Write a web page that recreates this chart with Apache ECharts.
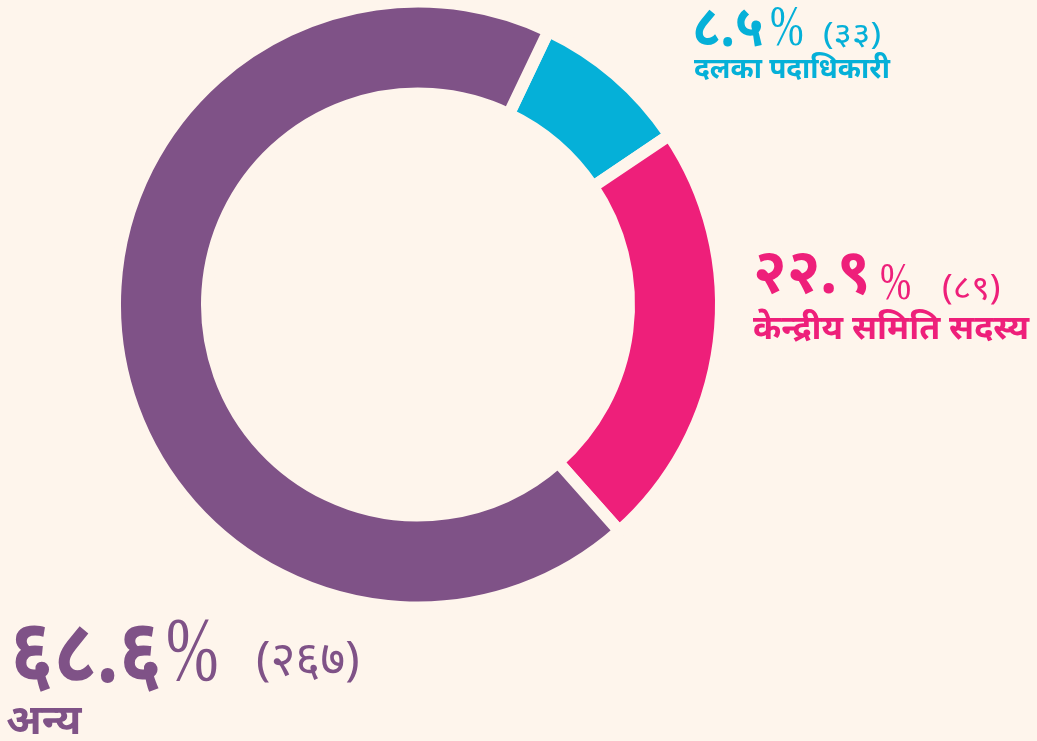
<!DOCTYPE html>
<html>
<head>
<meta charset="utf-8">
<script src="https://cdn.jsdelivr.net/npm/echarts@6/dist/echarts.min.js"></script>
<style>
  html, body { margin: 0; padding: 0; background: #fef5ec; }
  #chart { width: 1037px; height: 741px; }
</style>
</head>
<body>
<div id="chart"></div>
<script>
// data
const names = ['दलका पदाधिकारी', 'केन्द्रीय समिति सदस्य', 'अन्य'];
const counts = [33, 89, 267];
const colors = ['#05b0d8', '#ee1f7a', '#7f5287'];

const bg = '#fef5ec';
const font = '"Noto Sans", "DejaVu Sans", sans-serif';

// label placement: [x, y, fontSize, scaleX] for number / percent sign / count / name
const labelPos = [
  { num: [692, 0, 58, 0.88], pct: [770, 2, 56, 0.72], cnt: [823, 20, 30, 1.18], name: [694, 56, 28, 1] },
  { num: [753, 244, 62, 0.97], pct: [880, 259, 52, 0.72], cnt: [942, 272, 34, 1.05], name: [753, 312, 34, 1] },
  { num: [10, 611, 90, 0.86], pct: [166, 611, 90, 0.7], cnt: [256, 637, 48, 1.0], name: [6, 701, 42, 1] }
];

const toDeva = s => String(s).replace(/[0-9]/g, d => '०१२३४५६७८९'[d]);

const total = counts.reduce((a, b) => a + b, 0);
const pieData = names.map((n, i) => ({
  name: n,
  value: counts[i],
  itemStyle: { color: colors[i] }
}));

const texts = [];
names.forEach((n, i) => {
  const p = labelPos[i];
  const pct = (counts[i] / total * 100).toFixed(1);
  const add = (pos, text, weight, family) => {
    texts.push({
      type: 'text',
      x: pos[0],
      y: pos[1],
      scaleX: pos[3],
      style: {
        text: text,
        fill: colors[i],
        font: weight + ' ' + pos[2] + 'px ' + (family || font),
        verticalAlign: 'top'
      }
    });
  };
  add(p.num, toDeva(pct), 'bold');
  add(p.pct, '%', 'normal', '"Liberation Serif", serif');
  add(p.cnt, '(' + toDeva(counts[i]) + ')', 'normal');
  add(p.name, n, 'bold');
});

const chart = echarts.init(document.getElementById('chart'));
chart.setOption({
  backgroundColor: bg,
  animation: false,
  series: [
    {
      type: 'pie',
      center: [418, 304.5],
      radius: [211, 303],
      startAngle: 64.5,
      clockwise: true,
      silent: true,
      label: { show: false },
      labelLine: { show: false },
      itemStyle: {
        borderColor: bg,
        borderWidth: 12
      },
      data: pieData
    }
  ],
  graphic: texts
});
</script>
</body>
</html>
